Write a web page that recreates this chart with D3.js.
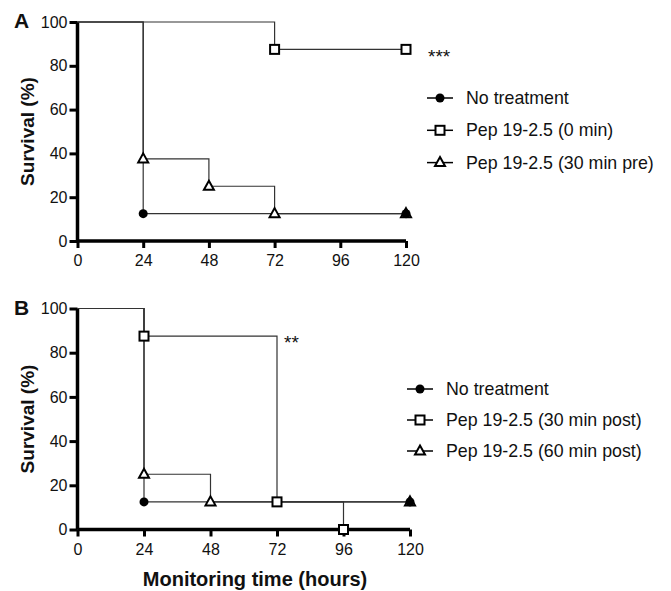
<!DOCTYPE html>
<html>
<head>
<meta charset="utf-8">
<script src="https://cdn.jsdelivr.net/npm/d3@7"></script>
<style>
  body { margin: 0; background: #fff; }
  text { font-family: "Liberation Sans", Arial, sans-serif; fill: #111; }
</style>
</head>
<body>
<svg id="chart" width="671" height="591"></svg>
<script>
// tick labels
const xTicks = [0, 24, 48, 72, 96, 120];
const yTicks = [0, 20, 40, 60, 80, 100];

// panel A series (time in hours, survival in %)
const noTreatA_t = [0, 24, 120];
const noTreatA_v = [100, 12.5, 12.5];
const pep0_t = [0, 72, 120];
const pep0_v = [100, 87.5, 87.5];
const pep30pre_t = [0, 24, 48, 72, 120];
const pep30pre_v = [100, 37.5, 25, 12.5, 12.5];

// panel B series
const noTreatB_t = [0, 24, 120];
const noTreatB_v = [100, 12.5, 12.5];
const pep30post_t = [0, 24, 72, 96];
const pep30post_v = [100, 87.5, 12.5, 0];
const pep60post_t = [0, 24, 48, 120];
const pep60post_v = [100, 25, 12.5, 12.5];

const namesA = ["No treatment", "Pep 19-2.5 (0 min)", "Pep 19-2.5 (30 min pre)"];
const namesB = ["No treatment", "Pep 19-2.5 (30 min post)", "Pep 19-2.5 (60 min post)"];
const shapes = ["circle", "square", "triangle"];

const svg = d3.select("#chart");

function zip(t, v) { return t.map((d, i) => ({ t: d, v: v[i] })); }

//draw a marker of given shape at (x,y)
function marker(g, shape, x, y) {
  if (shape == "circle") {
    g.append("circle").attr("cx", x).attr("cy", y).attr("r", 4.5).attr("fill", "#000");
  } else if (shape == "square") {
    g.append("rect").attr("x", x - 4.5).attr("y", y - 4.5).attr("width", 9).attr("height", 9)
      .attr("fill", "#fff").attr("stroke", "#000").attr("stroke-width", 2);
  } else {
    g.append("path").attr("d", `M${x},${y - 5.5}L${x + 5},${y + 3.5}L${x - 5},${y + 3.5}Z`)
      .attr("fill", "#fff").attr("stroke", "#000").attr("stroke-width", 2).attr("stroke-linejoin", "miter");
  }
}

function drawPanel(opt) {
  const x = d3.scaleLinear().domain([0, 120]).range([77.5, opt.xRight]);
  const y = d3.scaleLinear().domain([0, 100]).range([opt.yBottom, opt.yTop]);
  const g = svg.append("g");

  //axes
  const xAxis = g.append("g").attr("transform", `translate(0,${opt.yBottom})`)
    .call(d3.axisBottom(x).tickValues(xTicks).tickSize(7).tickPadding(7));
  const yAxis = g.append("g").attr("transform", `translate(77.5,0)`)
    .call(d3.axisLeft(y).tickValues(yTicks).tickSize(8).tickPadding(2));
  [xAxis, yAxis].forEach(a => {
    a.select(".domain").attr("stroke", "#000").attr("stroke-width", 3.5)
      .attr("d", a === xAxis ? `M${x(0)},0H${x(120)}` : `M0,${y(0)}V${y(100)}`);
    a.selectAll(".tick line").attr("stroke", "#000").attr("stroke-width", 3);
    a.selectAll(".tick text").style("font-size", "16px").attr("fill", "#111");
  });

  //survival step lines
  const line = d3.line().x(d => x(d.t)).y(d => y(d.v)).curve(d3.curveStepAfter);
  opt.series.forEach((s, i) => {
    g.append("path").datum(s).attr("d", line).attr("fill", "none")
      .attr("stroke", "#333").attr("stroke-width", 1.2);
  });
  //markers, drawn last series first so the filled circles stay on top
  for (let i = opt.series.length - 1; i >= 0; i--) {
    opt.series[i].slice(1).forEach(d => marker(g, shapes[i], x(d.t), y(d.v)));
  }

  //significance stars
  g.append("text").attr("x", opt.starX).attr("y", opt.starY).style("font-size", "19px")
    .text(opt.star);

  //panel letter
  g.append("text").attr("x", 14).attr("y", opt.yTop + 6).style("font-size", "21px")
    .style("font-weight", "bold").text(opt.letter);

  //y label
  g.append("text").attr("transform", `translate(34,${(opt.yTop + opt.yBottom) / 2}) rotate(-90)`)
    .attr("text-anchor", "middle").style("font-size", "19px").style("font-weight", "bold")
    .text("Survival (%)");

  //legend
  opt.names.forEach((n, i) => {
    const ly = opt.legY + i * opt.legStep;
    g.append("line").attr("x1", opt.legX - 13).attr("x2", opt.legX + 13).attr("y1", ly).attr("y2", ly)
      .attr("stroke", "#000").attr("stroke-width", 1.5);
    marker(g, shapes[i], opt.legX, ly);
    g.append("text").attr("x", opt.legX + 26).attr("y", ly + 6).style("font-size", "17.8px").text(n);
  });
}

drawPanel({
  letter: "A", xRight: 406, yTop: 22, yBottom: 241,
  series: [zip(noTreatA_t, noTreatA_v), zip(pep0_t, pep0_v), zip(pep30pre_t, pep30pre_v)],
  names: namesA, legX: 440, legY: 98, legStep: 32.3, star: "***", starX: 428, starY: 63
});

drawPanel({
  letter: "B", xRight: 410, yTop: 308.5, yBottom: 529.5,
  series: [zip(noTreatB_t, noTreatB_v), zip(pep30post_t, pep30post_v), zip(pep60post_t, pep60post_v)],
  names: namesB, legX: 420, legY: 389, legStep: 31, star: "**", starX: 284, starY: 349
});

svg.append("text").attr("x", 255).attr("y", 586).attr("text-anchor", "middle")
  .style("font-size", "20px").style("font-weight", "bold").text("Monitoring time (hours)");
</script>
</body>
</html>
